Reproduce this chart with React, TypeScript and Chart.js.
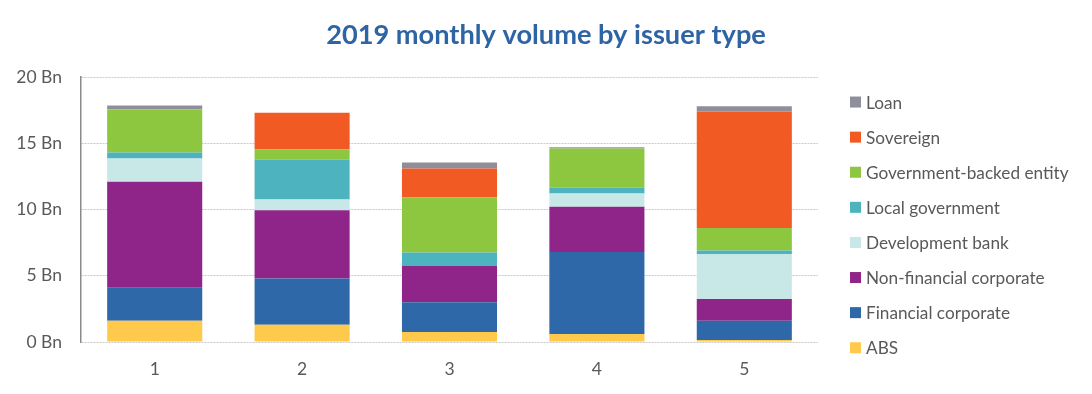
import React, { useEffect, useRef } from "react";
import { Chart, registerables } from "chart.js";

Chart.register(...registerables);

const categories = ["1", "2", "3", "4", "5"];
const seriesNames = [
  "ABS",
  "Financial corporate",
  "Non-financial corporate",
  "Development bank",
  "Local government",
  "Government-backed entity",
  "Sovereign",
  "Loan",
];
const absValues = [1.6, 1.3, 0.75, 0.6, 0.15];
const financialValues = [2.5, 3.5, 2.25, 6.2, 1.45];
const nonFinancialValues = [8.0, 5.15, 2.75, 3.4, 1.65];
const devBankValues = [1.75, 0.8, 0, 1.0, 3.4];
const localGovValues = [0.45, 3.0, 1.0, 0.45, 0.25];
const govBackedValues = [3.25, 0.8, 4.15, 2.95, 1.7];
const sovereignValues = [0, 2.75, 2.2, 0, 8.8];
const loanValues = [0.3, 0, 0.45, 0.1, 0.4];
const seriesColors = [
  "#FFC94B",
  "#2E68A8",
  "#8F2589",
  "#C8E8E8",
  "#4DB3BF",
  "#8DC63F",
  "#F15A22",
  "#8F8F9B",
];
const yTickMax = 20;
const yTickStep = 5;
const tickSuffix = " Bn";
const titleText = "2019 monthly volume by issuer type";

const FONT = "Lato, 'Open Sans', sans-serif";

const legendPlugin = {
  id: "customLegend",
  afterDraw(chart: any) {
    const ctx = chart.ctx;
    const area = chart.chartArea;
    const ds = chart.data.datasets;
    ctx.save();
    ctx.font = `17.2px ${FONT}`;
    ctx.textBaseline = "middle";
    ctx.textAlign = "left";
    const n = ds.length;
    for (let k = 0; k < n; k++) {
      const d = ds[n - 1 - k];
      const cy = area.top + 25 + k * 35.1;
      const bx = area.right + 32;
      ctx.fillStyle = d.backgroundColor;
      ctx.fillRect(bx, cy - 5.5, 11, 11);
      ctx.fillStyle = "#595959";
      ctx.fillText(d.label, bx + 16, cy + 1);
    }
    ctx.restore();
  },
};

export default function App() {
  const ref = useRef<HTMLCanvasElement | null>(null);
  useEffect(() => {
    if (!ref.current) return;
    const valuesList = [
      absValues,
      financialValues,
      nonFinancialValues,
      devBankValues,
      localGovValues,
      govBackedValues,
      sovereignValues,
      loanValues,
    ];
    const chart = new Chart(ref.current, {
      type: "bar",
      data: {
        labels: categories,
        datasets: seriesNames.map((name, i) => ({
          label: name,
          data: valuesList[i],
          backgroundColor: seriesColors[i],
          borderWidth: 0,
          barPercentage: 0.645,
          categoryPercentage: 1,
          yAxisID: "y",
        })),
      },
      options: {
        animation: false,
        responsive: true,
        maintainAspectRatio: false,
        layout: { padding: { left: 0, right: 0, top: 0, bottom: 0 } },
        plugins: {
          legend: { display: false },
          tooltip: { enabled: false },
          title: {
            display: true,
            text: titleText,
            color: "#2E64A4",
            font: { family: FONT, size: 27.2, weight: "bold" },
            padding: { top: 18.5, bottom: 25.9 },
          },
        },
        scales: {
          x: {
            stacked: true,
            grid: { display: false, drawTicks: false },
            border: { display: false },
            ticks: {
              color: "#595959",
              font: { family: FONT, size: 17.5 },
              padding: 16.5,
            },
            afterFit: (scale: any) => {
              scale.height = 52;
            },
          },
          y: {
            stacked: true,
            min: 0,
            max: yTickMax,
            position: "left",
            ticks: {
              stepSize: yTickStep,
              color: "#595959",
              font: { family: FONT, size: 17.5 },
              padding: 19,
              callback: (v: any) => `${v}${tickSuffix}`,
            },
            grid: {
              color: "#C8C8C8",
              lineWidth: 1,
              drawTicks: false,
            },
            border: {
              display: true,
              color: "#8A8A8A",
              width: 1.5,
              dash: [2, 1],
            },
            afterFit: (scale: any) => {
              scale.width = 81;
            },
          },
          yRight: {
            position: "right",
            display: true,
            min: 0,
            max: yTickMax,
            grid: { display: false, drawTicks: false },
            border: { display: false },
            ticks: { display: false },
            afterFit: (scale: any) => {
              scale.width = 274;
            },
          },
        },
      },
      plugins: [legendPlugin],
    });
    return () => chart.destroy();
  }, []);
  return (
    <div style={{ position: "fixed", left: 0, top: 0, width: 1092, height: 394, background: "#fff" }}>
      <canvas ref={ref} />
    </div>
  );
}
